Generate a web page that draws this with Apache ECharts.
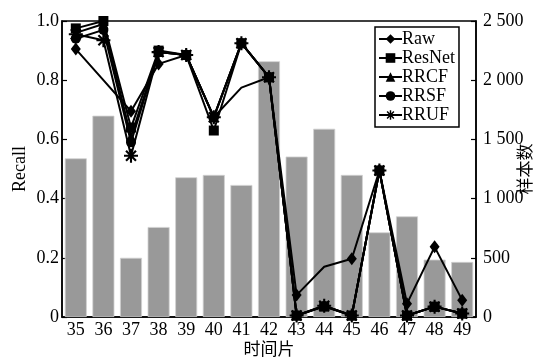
<!DOCTYPE html>
<html>
<head>
<meta charset="utf-8">
<script src="https://cdn.jsdelivr.net/npm/echarts@6/dist/echarts.min.js"></script>
<style>html,body{margin:0;padding:0;background:#fff;}#c{width:549px;height:359px;}</style>
</head>
<body>
<div id="c"></div>
<script>
var categories = ['35','36','37','38','39','40','41','42','43','44','45','46','47','48','49'];
var sampleCounts = [1340, 1700, 500, 760, 1180, 1200, 1115, 2160, 1355, 1590, 1200, 715, 850, 485, 465];
var rawRecall = [0.905, 0.80, 0.695, 0.855, 0.885, 0.675, 0.775, 0.81, 0.074, 0.17, 0.197, 0.495, 0.045, 0.237, 0.057];
var rawNoMarker = [1, 6, 9];
var resnetRecall = [0.975, 1.0, 0.64, 0.90, 0.885, 0.63, 0.925, 0.81, 0.005, 0.035, 0.005, 0.495, 0.005, 0.035, 0.012];
var rrcfRecall = [0.96, 0.99, 0.61, 0.895, 0.885, 0.675, 0.925, 0.81, 0.005, 0.037, 0.005, 0.495, 0.005, 0.035, 0.012];
var rrsfRecall = [0.94, 0.97, 0.59, 0.895, 0.885, 0.675, 0.925, 0.81, 0.005, 0.037, 0.005, 0.495, 0.005, 0.035, 0.012];
var rrufRecall = [0.955, 0.935, 0.545, 0.895, 0.885, 0.675, 0.925, 0.81, 0.005, 0.038, 0.005, 0.495, 0.005, 0.035, 0.012];
var recallTicks = [0, 0.2, 0.4, 0.6, 0.8, 1.0];
var countTicks = [0, 500, 1000, 1500, 2000, 2500];

var FONT = '"Liberation Serif", "Noto Sans CJK SC", serif';
var starPath = 'path://M-1.5,-10L1.5,-10L1.5,10L-1.5,10Z M-10,-1.5L10,-1.5L10,1.5L-10,1.5Z M-6,-8.2L8.2,6L6,8.2L-8.2,-6Z M-8.2,6L6,-8.2L8.2,-6L-6,8.2Z';

var rawData = rawRecall.map(function (v, i) {
  return rawNoMarker.indexOf(i) >= 0 ? {value: v, symbol: 'none'} : v;
});

function lineSeries(name, data, symbol, size, z) {
  return {
    name: name, type: 'line', yAxisIndex: 0, data: data,
    symbol: symbol, symbolSize: size, showSymbol: true, z: z,
    lineStyle: {color: '#000', width: 2},
    itemStyle: {color: '#000'},
    animation: false
  };
}

var chart = echarts.init(document.getElementById('c'));
chart.setOption({
  animation: false,
  backgroundColor: '#fff',
  grid: {left: 62, right: 73, top: 21, bottom: 42, containLabel: false, outerBoundsMode: 'none',
    show: true, borderColor: '#000', borderWidth: 1.5, backgroundColor: 'transparent'},
  legend: {
    orient: 'vertical', left: 375, top: 27,
    data: ['Raw', 'ResNet', 'RRCF', 'RRSF', 'RRUF'],
    itemWidth: 23, itemHeight: 12, itemGap: 1,
    padding: [3, 4, 3, 3],
    borderColor: '#000', borderWidth: 1.5, backgroundColor: '#fff',
    textStyle: {fontFamily: FONT, fontSize: 18, color: '#000', padding: [0, 0, 0, -5]}
  },
  xAxis: {
    type: 'category', data: categories,
    name: '时间片', nameLocation: 'middle', nameGap: 23, nameMoveOverlap: false,
    nameTextStyle: {fontFamily: '"Noto Sans CJK SC", sans-serif', fontSize: 17, color: '#000'},
    axisLine: {lineStyle: {color: '#000', width: 1.5}},
    axisTick: {show: false},
    axisLabel: {fontFamily: FONT, fontSize: 18, color: '#000', margin: 4, interval: 0}
  },
  yAxis: [{
    type: 'value', min: 0, max: 1.0, interval: 0.2, position: 'left',
    name: 'Recall', nameLocation: 'middle', nameGap: 33, nameRotate: 90, nameMoveOverlap: false,
    nameTextStyle: {fontFamily: FONT, fontSize: 18, color: '#000'},
    axisLine: {show: true, lineStyle: {color: '#000', width: 1.5}},
    axisTick: {show: true, inside: true, length: 5, lineStyle: {color: '#000', width: 1.2}},
    splitLine: {show: false},
    axisLabel: {fontFamily: FONT, fontSize: 18, color: '#000', margin: 3,
      formatter: function (v) { return v === 0 ? '0' : v.toFixed(1); }}
  }, {
    type: 'value', min: 0, max: 2500, interval: 500, position: 'right',
    name: '样本数', nameLocation: 'middle', nameGap: 40, nameRotate: 90, nameMoveOverlap: false,
    nameTextStyle: {fontFamily: '"Noto Sans CJK SC", sans-serif', fontSize: 17, color: '#000'},
    axisLine: {show: true, lineStyle: {color: '#000', width: 1.5}},
    axisTick: {show: true, inside: true, length: 5, lineStyle: {color: '#000', width: 1.2}},
    splitLine: {show: false},
    axisLabel: {fontFamily: FONT, fontSize: 18, color: '#000', margin: 7,
      formatter: function (v) { return v >= 1000 ? String(v).replace(/(\d)(\d{3})$/, '$1 $2') : String(v); }}
  }],
  series: [
    {name: '样本数', type: 'bar', yAxisIndex: 1, data: sampleCounts, barWidth: 22, z: 1,
      itemStyle: {color: '#999999', borderColor: '#d0d0d0', borderWidth: 0.8}, animation: false},
    lineSeries('Raw', rawData, 'diamond', [10, 13], 3),
    lineSeries('RRCF', rrcfRecall, 'triangle', 10, 4),
    lineSeries('RRSF', rrsfRecall, 'circle', 10, 5),
    lineSeries('RRUF', rrufRecall, starPath, 14, 6),
    lineSeries('ResNet', resnetRecall, 'rect', 10, 7)
  ]
});
</script>
</body>
</html>
